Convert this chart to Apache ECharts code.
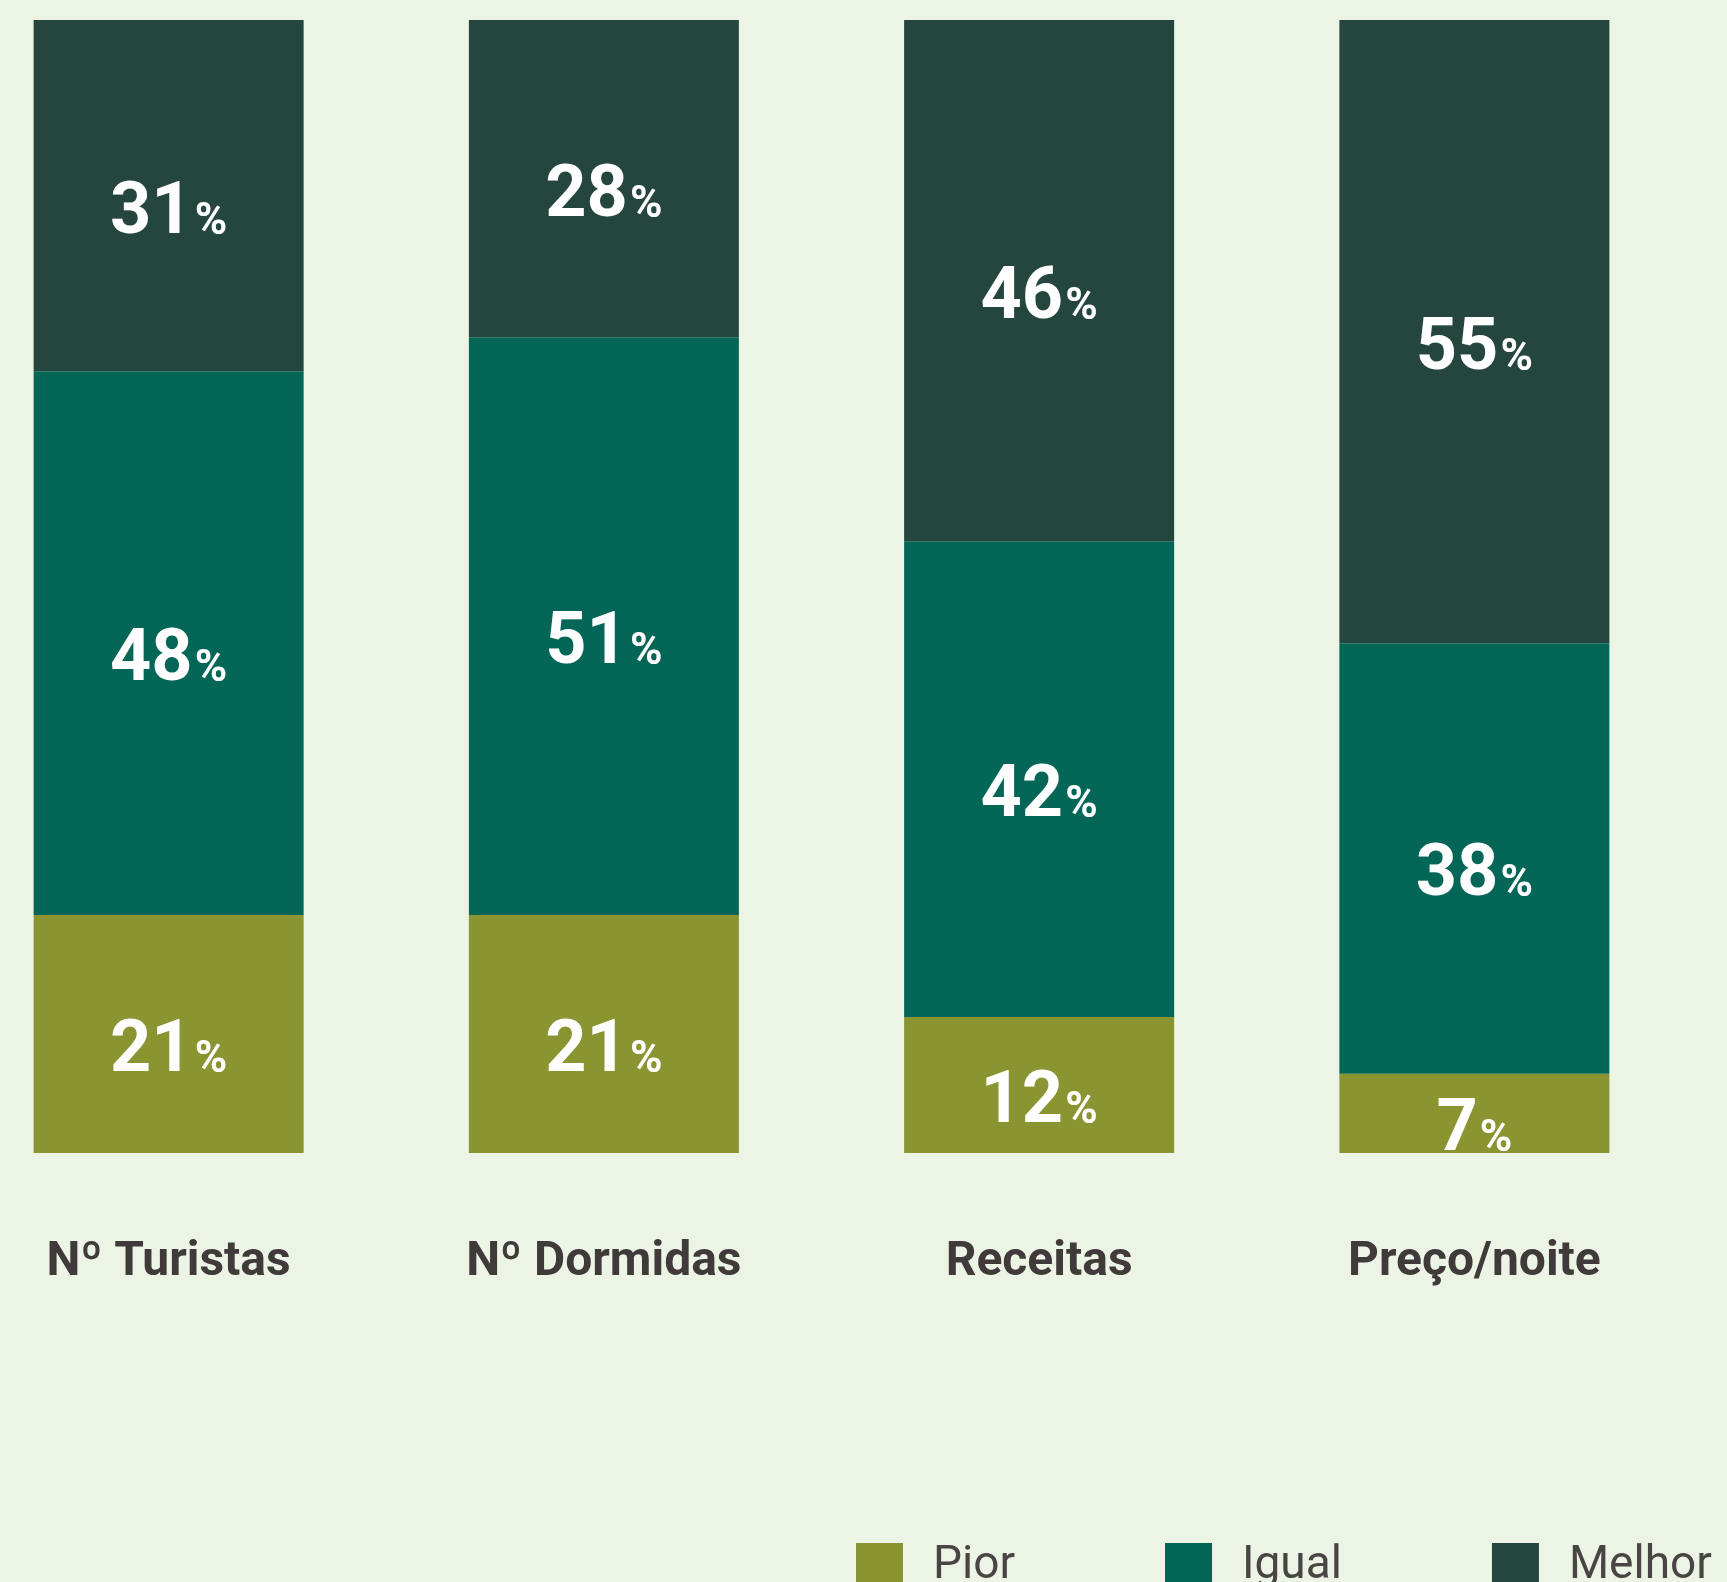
<!DOCTYPE html>
<html>
<head>
<meta charset="utf-8">
<script src="https://cdn.jsdelivr.net/npm/echarts@6/dist/echarts.min.js"></script>
<style>
html,body{margin:0;padding:0;background:#ecf5e5;}
#c{width:1727px;height:1582px;}
</style>
</head>
<body>
<div id="c"></div>
<script>
const categories = ['Nº Turistas', 'Nº Dormidas', 'Receitas', 'Preço/noite'];
const seriesNames = ['Pior', 'Igual', 'Melhor'];
const pior = [21, 21, 12, 7];
const igual = [48, 51, 42, 38];
const melhor = [31, 28, 46, 55];
const colors = ['#8a9430', '#036656', '#25463f'];

const chart = echarts.init(document.getElementById('c'));
const labelCfg = {
  show: true,
  position: 'inside',
  offset: [0, 15],
  formatter: p => '{n|' + p.value + '}{p|%}',
  rich: {
    n: { fontFamily: 'Roboto', fontWeight: 'bold', fontSize: 72, color: '#ffffff', verticalAlign: 'bottom', lineHeight: 80 },
    p: { fontFamily: 'Roboto', fontWeight: 'bold', fontSize: 44, color: '#ffffff', verticalAlign: 'bottom', lineHeight: 80, padding: [0, 0, 6, 2] }
  }
};
function mk(name, data, color) {
  return {
    name: name, type: 'bar', stack: 'total', data: data,
    barWidth: 270,
    itemStyle: { color: color },
    label: labelCfg,
    emphasis: { disabled: true }
  };
}
chart.setOption({
  backgroundColor: '#ecf5e5',
  animation: false,
  grid: { left: -49, right: 35, top: 20, bottom: 429, containLabel: false, outerBoundsMode: 'none' },
  xAxis: {
    type: 'category', data: categories,
    axisLine: { show: false }, axisTick: { show: false },
    axisLabel: { margin: 86, fontFamily: 'Roboto', fontWeight: 'bold', fontSize: 48, color: '#403b3a' }
  },
  yAxis: { type: 'value', min: 0, max: 100, show: false, splitLine: { show: false } },
  legend: {
    left: 856, top: 1543, padding: 0,
    itemWidth: 47, itemHeight: 47, itemGap: 150,
    icon: 'rect',
    data: seriesNames,
    textStyle: { fontFamily: 'Roboto', fontSize: 46, color: '#4a4545', padding: [0, 0, 0, 25] }
  },
  series: [mk(seriesNames[0], pior, colors[0]), mk(seriesNames[1], igual, colors[1]), mk(seriesNames[2], melhor, colors[2])]
});
</script>
</body>
</html>
